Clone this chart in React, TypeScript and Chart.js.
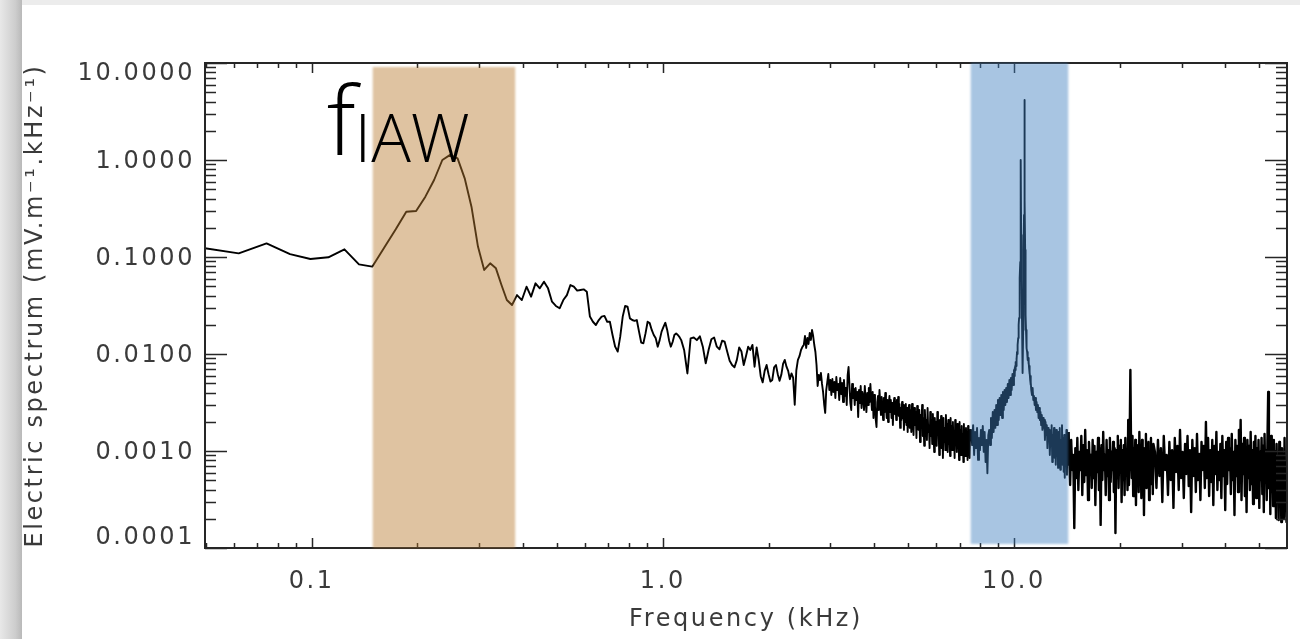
import { useEffect, useRef } from "react";
import { Chart, registerables } from "chart.js";

Chart.register(...registerables);

// ---- Spectrum data (frequency in kHz, amplitude in mV·m⁻¹·kHz⁻¹) ----
// Each band of the spectrum is stored as start frequency, bin step and amplitudes.

// 0.05 – 1.13 kHz, native bin width
const lowStart = 0.0496;
const lowStep = 0.0124;
const lowValues = [
  0.123, 0.109, 0.138, 0.107, 0.0953, 0.0993, 0.12, 0.084, 0.0795, 0.126,
  0.193, 0.293, 0.298, 0.419, 0.622, 1.0, 1.13, 1.04, 0.647, 0.33,
  0.128, 0.0735, 0.0861, 0.0764, 0.0514, 0.036, 0.032, 0.0405, 0.036, 0.0494,
  0.039, 0.0535, 0.0475, 0.0557, 0.0475, 0.0346, 0.0313, 0.0296, 0.036, 0.0405,
  0.0514, 0.0494, 0.045, 0.0457, 0.0464, 0.0439, 0.0243, 0.0215, 0.0199, 0.0224,
  0.0243, 0.0247, 0.0215, 0.0215, 0.0157, 0.0119, 0.0106, 0.0151, 0.0243, 0.0313,
  0.0308, 0.0233, 0.0224, 0.022, 0.0224, 0.017, 0.0131, 0.0129, 0.0163, 0.0215,
  0.0208, 0.0177, 0.0157, 0.0145, 0.0119, 0.0139, 0.017, 0.019, 0.021, 0.0177,
  0.0139, 0.0119, 0.0133, 0.0157, 0.0163, 0.0157, 0.0149, 0.0139,
];

// 1.15 – 2.5 kHz
const midStart = 1.15;
const midStep = 0.025;
const midValues = [
  0.011, 0.0063, 0.0145, 0.0148, 0.0139, 0.0152, 0.0119, 0.008, 0.011, 0.0142,
  0.0148, 0.0119, 0.0112, 0.0137, 0.0134, 0.0106, 0.0085, 0.0077, 0.0073, 0.0087,
  0.0117, 0.0106, 0.0077, 0.0095, 0.0119, 0.011, 0.0124, 0.0074, 0.0117, 0.0087,
  0.0059, 0.0051, 0.0067, 0.0077, 0.0062, 0.0052, 0.0054, 0.0073, 0.0077, 0.0062,
  0.0053, 0.0061, 0.0079, 0.0087, 0.0074, 0.0067, 0.0055, 0.0063, 0.0057, 0.003,
  0.0068, 0.0087, 0.0095, 0.011, 0.0119,
];

// 2.52 – 5.0 kHz
const upperMidStart = 2.52;
const upperMidStep = 0.02;
const upperMidValues = [
  0.01238, 0.01533, 0.01153, 0.01462, 0.01268, 0.01646, 0.01394, 0.01768, 0.01533, 0.01238,
  0.01049, 0.0077, 0.00468, 0.00607, 0.00539, 0.00637, 0.00491, 0.00406, 0.00305, 0.00247,
  0.00425, 0.00514, 0.00622, 0.00425, 0.00539, 0.00378, 0.00552, 0.00406, 0.00514, 0.00352,
  0.00579, 0.00425, 0.00491, 0.00336, 0.00566, 0.00387, 0.00502, 0.0032, 0.00539, 0.00369,
  0.00446, 0.00298, 0.00607, 0.00734, 0.00479, 0.00313, 0.00265, 0.00491, 0.00352, 0.00436,
  0.00298, 0.00446, 0.00336, 0.00406, 0.00224, 0.00425, 0.00313, 0.00468, 0.00278, 0.00406,
  0.0036, 0.00265, 0.00468, 0.00336, 0.00252, 0.00396, 0.00298, 0.00446, 0.0032, 0.00491,
  0.00352, 0.00265, 0.00406, 0.00219, 0.00378, 0.00291, 0.00209, 0.00177, 0.0032, 0.00369,
  0.00265, 0.00425, 0.00313, 0.00235, 0.0036, 0.00278, 0.00209, 0.00352, 0.00252, 0.00396,
  0.00291, 0.00219, 0.00336, 0.00199, 0.00305, 0.00369, 0.00252, 0.00336, 0.00219, 0.00313,
  0.00185, 0.00298, 0.00352, 0.00241, 0.0032, 0.00209, 0.00336, 0.00252, 0.0036, 0.0023,
  0.00305, 0.00173, 0.00278, 0.00209, 0.0032, 0.00219, 0.00298, 0.00165, 0.00265, 0.00199,
  0.00305, 0.00185, 0.00278, 0.00157, 0.00252,
];

// 5.025 – 7.5 kHz
const preLhStart = 5.025;
const preLhStep = 0.025;
const preLhValues = [
  0.00298, 0.00173, 0.00265, 0.00157, 0.00305, 0.00209, 0.00146, 0.00278, 0.00185, 0.00252,
  0.00136, 0.00291, 0.00199, 0.00165, 0.00265, 0.00124, 0.00235, 0.00173, 0.00298, 0.00143,
  0.00219, 0.00113, 0.00265, 0.00165, 0.00209, 0.0013, 0.00278, 0.00157, 0.00185, 0.00107,
  0.00252, 0.00143, 0.00209, 0.00118, 0.00241, 0.00165, 0.000977, 0.00219, 0.00136, 0.00199,
  0.00113, 0.00252, 0.0015, 0.00181, 0.000909, 0.00209, 0.0013, 0.0023, 0.00107, 0.00165,
  0.000847, 0.00219, 0.00124, 0.00173, 0.00102, 0.00235, 0.00143, 0.0019, 0.000977, 0.00209,
  0.00118, 0.00165, 0.000888, 0.00219, 0.0013, 0.00181, 0.00102, 0.00199, 0.00113, 0.00157,
  0.000847, 0.00209, 0.00124, 0.00173, 0.000977, 0.0019, 0.00115, 0.00157, 0.000808, 0.00199,
  0.00113, 0.00165, 0.000909, 0.00181, 0.00107, 0.0015, 0.00077, 0.0019, 0.00118, 0.00165,
  0.000888, 0.00173, 0.00102, 0.00143, 0.000808, 0.00181, 0.00107, 0.0015, 0.000847, 0.00165,
];

// 7.55 – 10.0 kHz, rising flank of the resonance
const lhRiseStart = 7.55;
const lhRiseStep = 0.05;
const lhRiseValues = [
  0.00165, 0.00115, 0.00185, 0.00091, 0.00157, 0.00107, 0.00173, 0.00081, 0.00136, 0.00102,
  0.00165, 0.00115, 0.00181, 0.00098, 0.00157, 0.00077, 0.0013, 0.00059, 0.00146, 0.00165,
  0.00115, 0.00219, 0.00136, 0.00252, 0.00157, 0.00265, 0.00173, 0.00298, 0.00185, 0.00336,
  0.00209, 0.00352, 0.00235, 0.00378, 0.00219, 0.00406, 0.00265, 0.00425, 0.00298, 0.00446,
  0.0032, 0.0049, 0.00352, 0.0054, 0.00378, 0.00566, 0.00425, 0.00622, 0.00479, 0.00684,
];

// 10.02 – 11.2 kHz, the two narrow lines
const lhPeakStart = 10.02;
const lhPeakStep = 0.02;
const lhPeakValues = [
  0.00593, 0.00717, 0.00622, 0.00752, 0.00684, 0.00827, 0.00752, 0.0091, 0.00867, 0.0105,
  0.01, 0.0121, 0.0124, 0.0146, 0.0157, 0.0199, 0.0235, 0.032, 0.0436, 0.0607,
  0.0888, 0.15, 1.0, 0.169, 0.118, 0.0579, 0.0224, 0.011, 0.0077, 0.00637,
  0.0177, 0.0457, 0.118, 0.271, 0.622, 4.16, 0.387, 0.118, 0.0514, 0.0252,
  0.0177, 0.0146, 0.0124, 0.0115, 0.0105, 0.00954, 0.01, 0.00867, 0.0091, 0.00788,
  0.00827, 0.00717, 0.00752, 0.00622, 0.00653, 0.0054, 0.00593, 0.00479, 0.00514, 0.00425,
];

// 11.25 – 14.3 kHz, falling flank
const lhFallStart = 11.25;
const lhFallStep = 0.05;
const lhFallValues = [
  0.00378, 0.00446, 0.00336, 0.00369, 0.00298, 0.00352, 0.00265, 0.0032, 0.00252, 0.00298,
  0.00219, 0.00278, 0.00209, 0.00252, 0.00185, 0.00235, 0.00165, 0.00219, 0.00173, 0.00209,
  0.0013, 0.00199, 0.00146, 0.00185, 0.00107, 0.00173, 0.00136, 0.00165, 0.00091, 0.00157,
  0.00115, 0.00185, 0.00077, 0.00146, 0.00107, 0.00173, 0.00085, 0.00136, 0.00072, 0.00165,
  0.00102, 0.0013, 0.00067, 0.00157, 0.00091, 0.00173, 0.00064, 0.0013, 0.00098, 0.00185,
  0.00072, 0.00136, 0.00061, 0.00146, 0.00053, 0.0013, 0.00081, 0.00165, 0.00057, 0.00136,
  0.00072, 0.00157,
];

// 14.35 – 24.95 kHz, noise floor
const floorStart = 14.35;
const floorStep = 0.1;
const floorValues = [
  1.02e-3, 4.46e-4, 1.3e-3, 6.37e-4, 9.1e-4, 1.61e-4, 1.07e-3, 5.27e-4, 1.36e-3, 3.96e-4,
  9.76e-4, 6.37e-4, 1.43e-3, 3.52e-4, 1.15e-3, 4.79e-4, 1.65e-3, 5.66e-4, 1.02e-3, 3.13e-4,
  1.24e-3, 6.68e-4, 9.1e-4, 4.16e-4, 1.3e-3, 5.27e-4, 1.13e-3, 2.77e-4, 9.76e-4, 6.07e-4,
  1.36e-3, 3.96e-4, 1.07e-3, 1.73e-4, 1.15e-3, 5.02e-4, 1.57e-3, 6.37e-4, 9.1e-4, 3.52e-4,
  1.3e-3, 5.52e-4, 1.02e-3, 3.13e-4, 1.36e-3, 4.79e-4, 9.76e-4, 6.37e-4, 1.24e-3, 3.78e-4,
  1.07e-3, 1.43e-4, 1.02e-3, 5.27e-4, 1.43e-3, 4.16e-4, 1.13e-3, 6.07e-4, 1.3e-3, 2.98e-4,
  1.02e-3, 5.02e-4, 1.15e-3, 3.52e-4, 1.36e-3, 5.66e-4, 9.76e-4, 3.96e-4, 2.09e-3, 4.46e-4,
  1.3e-3, 6.84e-3, 1.02e-3, 5.27e-4, 1.43e-3, 3.44e-4, 1.07e-3, 6.37e-4, 1.3e-3, 2.77e-4,
  9.76e-4, 4.79e-4, 1.15e-3, 3.78e-4, 1.57e-3, 5.79e-4, 9.1e-4, 3.28e-4, 1.3e-3, 5.02e-4,
  1.07e-3, 2.19e-4, 1.02e-3, 6.07e-4, 1.5e-3, 4.16e-4, 1.13e-3, 5.52e-4, 1.24e-3, 3.13e-4,
  9.76e-4, 4.57e-4, 1.36e-3, 6.37e-4, 1.02e-3, 3.6e-4, 1.18e-3,
];

// 25.2 – 59.95 kHz, noise floor
const highStart = 25.2;
const highStep = 0.25;
const highValues = [
  9.76e-4, 4.16e-4, 1.3e-3, 5.52e-4, 1.07e-3, 2.98e-4, 1.43e-3, 6.37e-4, 9.1e-4, 3.52e-4,
  1.24e-3, 5.02e-4, 1.02e-3, 2.59e-4, 1.36e-3, 6.07e-4, 1.13e-3, 3.96e-4, 1.65e-3, 5.27e-4,
  9.76e-4, 3.28e-4, 1.18e-3, 5.79e-4, 1.43e-3, 4.36e-4, 1.02e-3, 2.35e-4, 1.3e-3, 5.52e-4,
  1.07e-3, 3.78e-4, 1.5e-3, 5.02e-4, 9.31e-4, 3.13e-4, 1.24e-3, 6.37e-4, 1.13e-3, 4.16e-4,
  1.99e-3, 5.27e-4, 1.36e-3, 3.44e-4, 1.02e-3, 4.79e-4, 1.3e-3, 2.77e-4, 1.13e-3, 5.79e-4,
  1.57e-3, 3.96e-4, 9.76e-4, 5.02e-4, 1.18e-3, 3.28e-4, 1.43e-3, 5.52e-4, 1.02e-3, 2.46e-4,
  1.24e-3, 4.57e-4, 1.36e-3, 6.37e-4, 1.07e-3, 3.6e-4, 1.5e-3, 5.02e-4, 9.76e-4, 2.19e-4,
  1.3e-3, 5.52e-4, 1.13e-3, 3.78e-4, 1.65e-3, 4.79e-4, 2.09e-3, 3.13e-4, 1.18e-3, 5.79e-4,
  1.36e-3, 3.44e-4, 9.76e-4, 2.35e-4, 1.3e-3, 5.27e-4, 1.13e-3, 3.96e-4, 1.57e-3, 4.57e-4,
  1.02e-3, 2.84e-4, 1.24e-3, 5.52e-4, 1.43e-3, 3.28e-4, 1.07e-3, 4.36e-4, 1.3e-3, 2.59e-4,
  9.76e-4, 5.02e-4, 1.36e-3, 3.6e-4, 1.13e-3, 2.35e-4, 1.5e-3, 4.79e-4,
  1.02e-3, 3.13e-4, 1.3e-3, 4.06e-3, 4.16e-4, 1.13e-3, 2.24e-4, 1.43e-3, 3.78e-4, 1.02e-3,
  2.71e-4, 1.3e-3, 3.28e-4, 9.76e-4, 2.04e-4, 1.18e-3, 3.96e-4, 8.88e-4, 1.94e-4, 1.24e-3,
  2.77e-4, 9.1e-4, 1.85e-4, 1.07e-3, 3.13e-4, 8.08e-4, 2.04e-4, 1.36e-3, 2.46e-4, 7.7e-4,
  1.85e-4, 6.37e-4,
];

// ---- Axes ----
const xMin = 0.0497;
const xMax = 59.9;
const yMin = 1e-4;
const yMax = 10;
const xTickValues = [0.1, 1, 10];
const xTickLabels = ["0.1", "1.0", "10.0"];
const yTickValues = [10, 1, 0.1, 0.01, 0.001, 0.0001];
const yTickLabels = ["10.0000", "1.0000", "0.1000", "0.0100", "0.0010", "0.0001"];
const xTitle = "Frequency (kHz)";
const yTitle = "Electric spectrum (mV.m\u207B\u00B9.kHz\u207B\u00B9)";

// ---- Highlighted frequency bands ----
const iawBandFreq = [0.1493, 0.38];
const iawBandLevel = [1e-4, 9.1];
const lhBandFreq = [7.53, 14.27];
const lhBandLevel = [1.1e-4, 10];
const iawLabelMain = "f";
const iawLabelSub = "IAW";

// above this frequency the trace is a dense noise floor, drawn with a heavier pen
const denseFloorFrom = 14.3;

function segment(start: number, step: number, values: number[]) {
  return values.map((v, i) => ({ x: +(start + i * step).toFixed(4), y: v }));
}

const spectrum = [
  ...segment(lowStart, lowStep, lowValues),
  ...segment(midStart, midStep, midValues),
  ...segment(upperMidStart, upperMidStep, upperMidValues),
  ...segment(preLhStart, preLhStep, preLhValues),
  ...segment(lhRiseStart, lhRiseStep, lhRiseValues),
  ...segment(lhPeakStart, lhPeakStep, lhPeakValues),
  ...segment(lhFallStart, lhFallStep, lhFallValues),
  ...segment(floorStart, floorStep, floorValues),
  ...segment(highStart, highStep, highValues),
];

const FONT = "'DejaVu Sans', 'Liberation Sans', sans-serif";
const TEXT = "#3a3a3a";

const decorations = {
  id: "idlFrame",
  beforeDraw(chart: any) {
    const { ctx, width, height } = chart;
    ctx.save();
    ctx.fillStyle = "#ffffff";
    ctx.fillRect(0, 0, width, height);
    ctx.restore();
  },
  afterDraw(chart: any) {
    const { ctx, chartArea: a, width, height } = chart;
    const xs = chart.scales.x;
    const ys = chart.scales.y;
    ctx.save();

    // frame
    ctx.strokeStyle = "#262626";
    ctx.lineWidth = 2;
    ctx.strokeRect(a.left, a.top, a.right - a.left, a.bottom - a.top);

    // inward ticks
    ctx.lineWidth = 1.5;
    ctx.beginPath();
    for (let d = 0.01; d <= 100; d *= 10) {
      for (let m = 1; m <= 9; m++) {
        const v = d * m;
        if (v < xMin || v > xMax) continue;
        const px = Math.round(xs.getPixelForValue(v)) + 0.5;
        const len = m === 1 ? 10 : 5;
        ctx.moveTo(px, a.bottom);
        ctx.lineTo(px, a.bottom - len);
        ctx.moveTo(px, a.top);
        ctx.lineTo(px, a.top + len);
      }
    }
    for (let d = 1e-4; d <= 10.0001; d *= 10) {
      for (let m = 1; m <= 9; m++) {
        const v = d * m;
        if (v < yMin * 0.999 || v > yMax * 1.001) continue;
        const py = Math.round(ys.getPixelForValue(v)) + 0.5;
        const len = m === 1 ? 22 : 11;
        ctx.moveTo(a.left, py);
        ctx.lineTo(a.left + len, py);
        ctx.moveTo(a.right, py);
        ctx.lineTo(a.right - len, py);
      }
    }
    ctx.stroke();

    // highlighted bands
    ctx.filter = "blur(1px)";
    const band = (f: number[], l: number[], color: string) => {
      const x0 = xs.getPixelForValue(f[0]);
      const x1 = xs.getPixelForValue(f[1]);
      const y0 = ys.getPixelForValue(l[1]);
      const y1 = ys.getPixelForValue(l[0]);
      ctx.fillStyle = color;
      ctx.fillRect(x0, y0, x1 - x0, y1 - y0);
    };
    band(iawBandFreq, iawBandLevel, "rgba(184,122,46,0.45)");
    band(lhBandFreq, lhBandLevel, "rgba(62,126,191,0.45)");
    ctx.filter = "none";

    // tick labels
    ctx.fillStyle = TEXT;
    ctx.font = `24px ${FONT}`;
    (ctx as any).letterSpacing = "2.6px";
    ctx.textBaseline = "middle";
    ctx.textAlign = "right";
    yTickValues.forEach((v, i) => {
      let py = ys.getPixelForValue(v) + 2;
      py = Math.min(Math.max(py, a.top + 11), a.bottom - 10);
      ctx.fillText(yTickLabels[i], a.left - 10, py);
    });
    ctx.textAlign = "center";
    xTickValues.forEach((v, i) => {
      ctx.fillText(xTickLabels[i], xs.getPixelForValue(v), a.bottom + 34);
    });

    // axis titles
    ctx.textBaseline = "alphabetic";
    ctx.fillText(xTitle, (a.left + a.right) / 2, a.bottom + 78);
    ctx.save();
    ctx.translate(42, (a.top + a.bottom) / 2);
    ctx.rotate(-Math.PI / 2);
    ctx.fillText(yTitle, 0, 0);
    ctx.restore();

    // band annotation
    (ctx as any).letterSpacing = "0px";
    ctx.fillStyle = "#000000";
    ctx.textAlign = "left";
    const bx = xs.getPixelForValue(iawBandFreq[0]);
    ctx.font = `300 96px 'Open Sans', 'Noto Sans', sans-serif`;
    ctx.fillText(iawLabelMain, bx - 46, a.top + 92);
    const fw = ctx.measureText(iawLabelMain).width;
    ctx.font = `300 66px 'Open Sans', 'Noto Sans', sans-serif`;
    ctx.fillText(iawLabelSub, bx - 46 + fw - 1, a.top + 99);

    // page edge shading
    const g = ctx.createLinearGradient(0, 0, 22, 0);
    g.addColorStop(0, "#e8e8e8");
    g.addColorStop(0.7, "#cdcdcd");
    g.addColorStop(1, "#b9b9b9");
    ctx.fillStyle = g;
    ctx.fillRect(0, 0, 22, height);
    ctx.fillStyle = "#ececec";
    ctx.fillRect(22, 0, width - 22, 5);
    ctx.restore();
  },
};

export default function App() {
  const ref = useRef<HTMLCanvasElement | null>(null);

  useEffect(() => {
    if (!ref.current) return;
    const chart = new Chart(ref.current, {
      type: "line",
      data: {
        datasets: [
          {
            data: spectrum,
            borderColor: "#000000",
            borderWidth: 1.9,
            borderJoinStyle: "round",
            pointRadius: 0,
            tension: 0,
            fill: false,
            segment: {
              borderWidth: (c: any) => (c.p0.parsed.x >= denseFloorFrom ? 2.4 : 1.9),
            },
          },
        ],
      },
      options: {
        animation: false,
        responsive: false,
        devicePixelRatio: 1,
        parsing: false,
        normalized: true,
        events: [],
        layout: { padding: { left: 205, top: 63, right: 13, bottom: 91 } },
        plugins: { legend: { display: false }, tooltip: { enabled: false } },
        scales: {
          x: { type: "logarithmic", min: xMin, max: xMax, display: false },
          y: { type: "logarithmic", min: yMin, max: yMax, display: false },
        },
      },
      plugins: [decorations],
    } as any);
    return () => chart.destroy();
  }, []);

  return (
    <div style={{ position: "absolute", left: 0, top: 0, width: 1300, height: 639 }}>
      <canvas ref={ref} width={1300} height={639} style={{ display: "block" }} />
    </div>
  );
}
